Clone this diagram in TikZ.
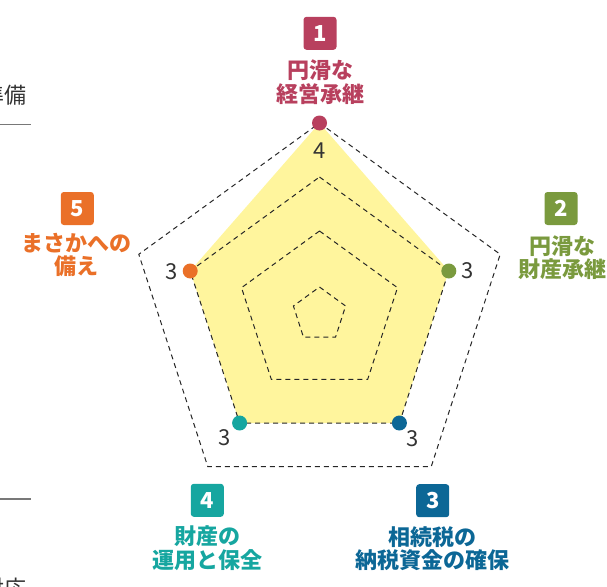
\documentclass[tikz,border=0pt]{standalone}
\usepackage{fontspec}
\setmainfont{Noto Sans CJK JP}
\definecolor{cA}{RGB}{184,64,94}
\definecolor{cB}{RGB}{122,154,62}
\definecolor{cC}{RGB}{12,103,150}
\definecolor{cD}{RGB}{22,166,160}
\definecolor{cE}{RGB}{234,112,40}
\definecolor{fillY}{RGB}{255,245,157}
\definecolor{txt}{RGB}{51,51,51}
\definecolor{rule}{RGB}{120,120,120}
\begin{document}
\begin{tikzpicture}[x=1pt,y=-1pt,
  gridline/.style={draw=black!85, line width=1pt, dash pattern=on 5pt off 4pt},
  dotmark/.style={circle, inner sep=0pt, minimum size=15pt},
  numbox/.style={rounded corners=3pt, minimum width=33pt, minimum height=33pt, inner sep=0pt, text=white, font=\fontsize{22}{22}\selectfont\bfseries},
  lab/.style={align=center, inner sep=0pt, font=\fontsize{22}{23.5}\selectfont\bfseries},
  val/.style={text=txt, inner sep=0pt, font=\fontsize{22}{22}\selectfont},
  side/.style={text=txt, inner sep=0pt, font=\fontsize{22}{22}\selectfont},
]
\useasboundingbox (0,0) rectangle (607,586);
\clip (0,0) rectangle (607,586);
% level 4 (outer)
\coordinate (a4) at (319.5,123);
\coordinate (b4) at (500.2,254.3);
\coordinate (c4) at (431.2,466.7);
\coordinate (d4) at (207.8,466.7);
\coordinate (e4) at (138.8,254.3);
% level 3
\coordinate (a3) at (319.5,177);
\coordinate (b3) at (448.8,271);
\coordinate (c3) at (399.4,423);
\coordinate (d3) at (239.6,423);
\coordinate (e3) at (190.2,271);
% level 2
\coordinate (a2) at (319.5,231);
\coordinate (b2) at (397.5,287.7);
\coordinate (c2) at (367.7,379.3);
\coordinate (d2) at (271.3,379.3);
\coordinate (e2) at (241.5,287.7);
% level 1
\coordinate (a1) at (319.5,287);
\coordinate (b1) at (345.6,306);
\coordinate (c1) at (335.6,337);
\coordinate (d1) at (303.4,337);
\coordinate (e1) at (293.4,306);
% data area
\fill[fillY] (a4) -- (b3) -- (c3) -- (d3) -- (e3) -- cycle;
\draw[gridline] (a4) -- (b4) -- (c4) -- (d4) -- (e4) -- cycle;
\draw[gridline] (a3) -- (b3) -- (c3) -- (d3) -- (e3) -- cycle;
\draw[gridline] (a2) -- (b2) -- (c2) -- (d2) -- (e2) -- cycle;
\draw[gridline] (a1) -- (b1) -- (c1) -- (d1) -- (e1) -- cycle;
% points
\node[dotmark, fill=cA] (p1) at (a4) {};
\node[dotmark, fill=cB] (p2) at (b3) {};
\node[dotmark, fill=cC] (p3) at (c3) {};
\node[dotmark, fill=cD] (p4) at (d3) {};
\node[dotmark, fill=cE] (p5) at (e3) {};
% values
\node[val] (v1) at (319.5,151) {4};
\node[val] (v2) at (467.5,270.5) {3};
\node[val] (v5) at (171.5,272) {3};
\node[val] (v4) at (224.5,438) {3};
\node[val] (v3) at (412.5,438.5) {3};
% numbered boxes and labels
\node[numbox, fill=cA] (n1) at (320,33.3) {1};
\node[lab, text=cA] (t1) at (320,82) {円滑な\\経営承継};
\node[numbox, fill=cB] (n2) at (561,208.5) {2};
\node[lab, text=cB] (t2) at (562,257.5) {円滑な\\財産承継};
\node[numbox, fill=cC] (n3) at (432.7,500.7) {3};
\node[lab, text=cC] (t3) at (432.5,548.5) {相続税の\\納税資金の確保};
\node[numbox, fill=cD] (n4) at (207.3,500.3) {4};
\node[lab, text=cD] (t4) at (207.3,548) {財産の\\運用と保全};
\node[numbox, fill=cE] (n5) at (77.3,208.5) {5};
\node[lab, text=cE] (t5) at (76.5,255) {まさかへの\\備え};
% cut-off side elements on the left edge
\node[side, anchor=east] (s1) at (26.5,95.5) {準備};
\coordinate (r1a) at (0,124.3);
\coordinate (r1b) at (31,124.3);
\draw[rule, line width=1.3pt] (r1a) -- (r1b);
\coordinate (r2a) at (0,499);
\coordinate (r2b) at (31,499);
\draw[rule, line width=1.3pt] (r2a) -- (r2b);
\node[side, anchor=east] (s2) at (26.5,588) {対応};
\end{tikzpicture}
\end{document}
